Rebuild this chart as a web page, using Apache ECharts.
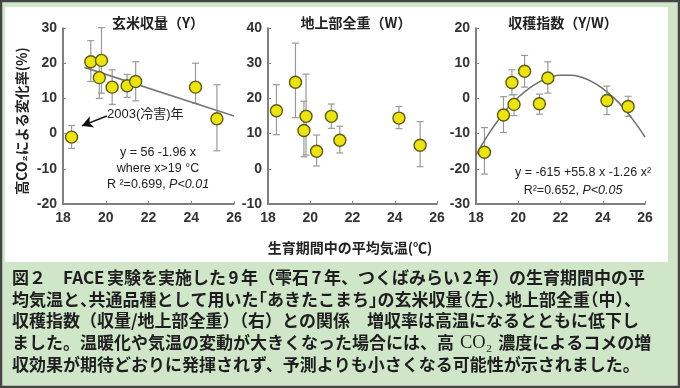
<!DOCTYPE html>
<html><head><meta charset="utf-8">
<script src="https://cdn.jsdelivr.net/npm/echarts@6/dist/echarts.min.js"></script>
<style>html,body{margin:0;padding:0;background:#cfe7c8}#c{width:680px;height:388px}</style>
</head><body><div id="c"></div>
<script>
// ---- data ----
const temps = [18.4, 19.3, 19.7, 19.8, 20.3, 21.0, 21.4, 24.2, 25.2];
const yieldVals  = [-1.0, 20.4, 15.9, 20.8, 13.2, 13.6, 14.8, 13.2, 4.2];
const yieldLow   = [-4.2, 14.8, 10.0, 11.5, 8.3, 10.3, 9.3, 8.6, -4.9];
const yieldHigh  = [2.3, 26.4, 21.8, 30.1, 18.1, 16.8, 20.4, 20.0, 13.9];
const weightVals = [16.5, 24.6, 10.9, 14.9, 5.0, 14.9, 8.1, 14.4, 6.7];
const weightLow  = [9.7, 14.5, 3.4, 3.9, 0.8, 11.5, 4.5, 11.4, 0.6];
const weightHigh = [23.9, 35.7, 19.2, 26.9, 9.6, 18.4, 12.1, 17.7, 13.4];
const hiVals  = [-15.3, -4.7, 4.5, -1.7, 7.7, -1.5, 5.8, -0.6, -2.3];
const hiLow   = [-21.5, -9.7, 1.0, -4.9, 3.2, -4.5, 1.5, -4.6, -5.1];
const hiHigh  = [-8.3, 0.5, 8.1, 1.1, 12.2, 1.2, 10.4, 3.5, 0.6];
const yieldFitX = [19, 26];
const yieldFitY = [18.8, 5.0];
const hiFitX = [18, 18.5, 19, 19.5, 20, 20.5, 21, 21.5, 22, 22.5, 23, 23.5, 24, 24.5, 25, 25.5, 26];
const hiFitY = [-16.1, -11.0, -6.6, -2.8, 0.3, 2.8, 4.7, 6.0, 6.6, 6.6, 6.0, 4.7, 2.8, 0.3, -2.8, -6.6, -11.0];
const arrowFrom = [20.05, 5.0];
const arrowTo = [18.88, 2.2];
const xTicks = [18, 20, 22, 24, 26];
const yTicksYield = [-20, -10, 0, 10, 20, 30];
const yTicksWeight = [-10, 0, 10, 20, 30, 40];
const yTicksHI = [-30, -20, -10, 0, 10, 20];
const panelTitles = ['玄米収量（Y）', '地上部全重（W）', '収穫指数（Y/W）'];
const yAxisName = '高CO₂による変化率(%)';
const xAxisName = '生育期間中の平均気温(℃)';
const captionLines = [
  '図２　FACE 実験を実施した 9 年（雫石 7 年、つくばみらい 2 年）の生育期間中の平',
  '均気温と、共通品種として用いた「あきたこまち」の玄米収量（左）、地上部全重（中）、',
  '収穫指数（収量/地上部全重）（右）との関係　増収率は高温になるとともに低下し',
  ['ました。温暖化や気温の変動が大きくなった場合には、高', 'CO₂', '濃度によるコメの増'],
  '収効果が期待どおりに発揮されず、予測よりも小さくなる可能性が示されました。'
];

// ---- helpers ----
const F_CJK = "'Noto Sans CJK JP', sans-serif";
const F_LAT = "'Liberation Sans', 'Noto Sans CJK JP', sans-serif";
const grids = [
  {left: 63, top: 28, width: 171, height: 176},
  {left: 268, top: 28, width: 169, height: 176},
  {left: 476, top: 28, width: 169, height: 176}
];
function xAx(gi) {
  return {type: 'value', gridIndex: gi, min: xTicks[0], max: xTicks[xTicks.length - 1], interval: xTicks[1] - xTicks[0],
    axisLine: {show: true, onZero: false, lineStyle: {color: '#555', width: 1.5}},
    axisTick: {show: true, inside: true, length: 3, lineStyle: {color: '#888'}},
    axisLabel: {fontSize: 14, fontWeight: 'bold', color: '#333', margin: 7, fontFamily: F_LAT},
    splitLine: {show: false}};
}
function yAx(gi, ticks) {
  return {type: 'value', gridIndex: gi, min: ticks[0], max: ticks[ticks.length - 1], interval: ticks[1] - ticks[0],
    axisLine: {show: true, onZero: false, lineStyle: {color: '#555', width: 1.5}},
    axisTick: {show: true, inside: true, length: 3, lineStyle: {color: '#888'}},
    axisLabel: {fontSize: 14, fontWeight: 'bold', color: '#333', margin: 6, fontFamily: F_LAT},
    splitLine: {show: false}};
}
function errSeries(gi, low, high) {
  return {type: 'custom', xAxisIndex: gi, yAxisIndex: gi, z: 1, silent: true,
    data: temps.map((t, i) => [t, low[i], high[i]]),
    encode: {x: 0, y: [1, 2]},
    renderItem: function (params, api) {
      const x = api.value(0);
      const top = api.coord([x, api.value(2)]);
      const bot = api.coord([x, api.value(1)]);
      const w = 3.5, st = {stroke: '#9a9a9a', lineWidth: 1.2};
      return {type: 'group', children: [
        {type: 'line', shape: {x1: top[0], y1: top[1], x2: bot[0], y2: bot[1]}, style: st},
        {type: 'line', shape: {x1: top[0] - w, y1: top[1], x2: top[0] + w, y2: top[1]}, style: st},
        {type: 'line', shape: {x1: bot[0] - w, y1: bot[1], x2: bot[0] + w, y2: bot[1]}, style: st}
      ]};
    }};
}
function ptSeries(gi, vals, extra) {
  return Object.assign({type: 'scatter', xAxisIndex: gi, yAxisIndex: gi, z: 3, symbol: 'circle', symbolSize: 12,
    itemStyle: {color: '#ece40a', borderColor: '#5c5a1c', borderWidth: 1.4, opacity: 1},
    data: temps.map((t, i) => [t, vals[i]])}, extra || {});
}
function txt(x, y, text, st, extra) {
  return Object.assign({type: 'text', x: x, y: y, z: 10,
    style: Object.assign({text: text, fill: '#222', align: 'center', verticalAlign: 'middle',
      fontSize: 13, fontFamily: F_LAT}, st)}, extra || {});
}
// caption line with compact punctuation (proportional look)
function compact(s) {
  const closers = '）、」', openers = '（「';
  const chars = Array.from(s);
  let out = '', buf = '';
  for (let i = 0; i < chars.length; i++) {
    const c = chars[i], nx = chars[i + 1];
    const half = closers.indexOf(c) >= 0 || (nx && openers.indexOf(nx) >= 0);
    if (half) { if (buf) { out += '{n|' + buf + '}'; buf = ''; } out += '{h|' + c + '}'; }
    else buf += c;
  }
  if (buf) out += '{n|' + buf + '}';
  return out;
}
// narrow spaces (line 1)
function narrowSpaces(s) {
  return s.split(' ').map(p => '{n|' + p + '}').join('{w| }');
}
const capStyle = {fontSize: 17, fontWeight: 'bold', fontFamily: F_CJK, fill: '#1e1e1e'};
const capRich = {
  n: {fontSize: 17, fontWeight: 'bold', fontFamily: F_CJK, color: '#1e1e1e'},
  h: {fontSize: 17, fontWeight: 'bold', fontFamily: F_CJK, color: '#1e1e1e', width: 8.5},
  w: {fontSize: 17, fontFamily: F_CJK, color: '#1e1e1e', width: 2.5},
  g: {fontSize: 17, fontFamily: F_CJK, color: '#1e1e1e', width: 6},
  s: {fontSize: 18.5, fontFamily: "'Liberation Serif', 'DejaVu Serif', serif", color: '#1e1e1e'}
};
const capY = [278, 300, 321, 343, 365];
const captionEls = captionLines.map((ln, i) => {
  let text;
  if (Array.isArray(ln)) text = '{n|' + ln[0] + '}{g| }{s|' + ln[1] + '}{g| }{n|' + ln[2] + '}';
  else if (i === 1) text = compact(ln);
  else if (i === 0) text = narrowSpaces(ln);
  else text = '{n|' + ln + '}';
  return txt(12, capY[i], text, Object.assign({align: 'left', rich: capRich}, capStyle));
});

const eqRich = {
  n: {fontSize: 12.5, fontFamily: F_LAT, color: '#222'},
  i: {fontSize: 12.5, fontFamily: F_LAT, fontStyle: 'italic', color: '#222'}
};

const chart = echarts.init(document.getElementById('c'), null, {renderer: 'canvas'});
chart.setOption({
  backgroundColor: '#cfe7c8',
  animation: false,
  grid: grids,
  xAxis: [xAx(0), xAx(1), xAx(2)],
  yAxis: [yAx(0, yTicksYield), yAx(1, yTicksWeight), yAx(2, yTicksHI)],
  series: [
    errSeries(0, yieldLow, yieldHigh),
    {type: 'line', xAxisIndex: 0, yAxisIndex: 0, z: 2, symbol: 'none', silent: true,
      lineStyle: {color: '#7a7a7a', width: 1.8}, data: yieldFitX.map((x, i) => [x, yieldFitY[i]])},
    ptSeries(0, yieldVals, {markLine: {silent: true, symbol: ['none', 'arrow'], symbolSize: [9, 11],
      lineStyle: {color: '#111', width: 1.5, type: 'solid'}, label: {show: false},
      data: [[{coord: arrowFrom}, {coord: arrowTo}]]}}),
    errSeries(1, weightLow, weightHigh),
    ptSeries(1, weightVals),
    errSeries(2, hiLow, hiHigh),
    {type: 'line', xAxisIndex: 2, yAxisIndex: 2, z: 2, symbol: 'none', smooth: true, silent: true,
      lineStyle: {color: '#6f6f6f', width: 1.5}, data: hiFitX.map((x, i) => [x, hiFitY[i]])},
    ptSeries(2, hiVals)
  ],
  graphic: [
    {type: 'rect', z: -10, shape: {x: 1, y: 1, width: 678, height: 386}, style: {fill: 'none', stroke: '#444', lineWidth: 2.5}},
    {type: 'rect', z: -10, shape: {x: 5, y: 7, width: 663, height: 255}, style: {fill: '#ffffff'}},
    txt(158, 23, panelTitles[0], {fontSize: 14, fontWeight: 'bold', fontFamily: F_CJK}),
    txt(356, 23, panelTitles[1], {fontSize: 14, fontWeight: 'bold', fontFamily: F_CJK}),
    txt(563, 23, panelTitles[2], {fontSize: 14, fontWeight: 'bold', fontFamily: F_CJK}),
    txt(22, 121, yAxisName, {fontSize: 14, fontWeight: 'bold', fontFamily: F_CJK}, {rotation: Math.PI / 2}),
    txt(350, 248, xAxisName, {fontSize: 14, fontWeight: 'bold', fontFamily: F_CJK}),
    txt(107, 114, '2003(冷害)年', {align: 'left', fontSize: 13}),
    txt(158, 153, 'y = 56 -1.96 x', {fontSize: 12.5}),
    txt(158, 169, 'where x>19 °C', {fontSize: 12.5}),
    txt(158, 185, '{n|R ²=0.699, }{i|P<0.01}', {fontSize: 12.5, rich: eqRich}),
    txt(583, 173, 'y = -615 +55.8 x -1.26 x²', {fontSize: 12.5}),
    txt(573, 191, '{n|R²=0.652, }{i|P<0.05}', {fontSize: 12.5, rich: eqRich})
  ].concat(captionEls)
});
</script></body></html>
